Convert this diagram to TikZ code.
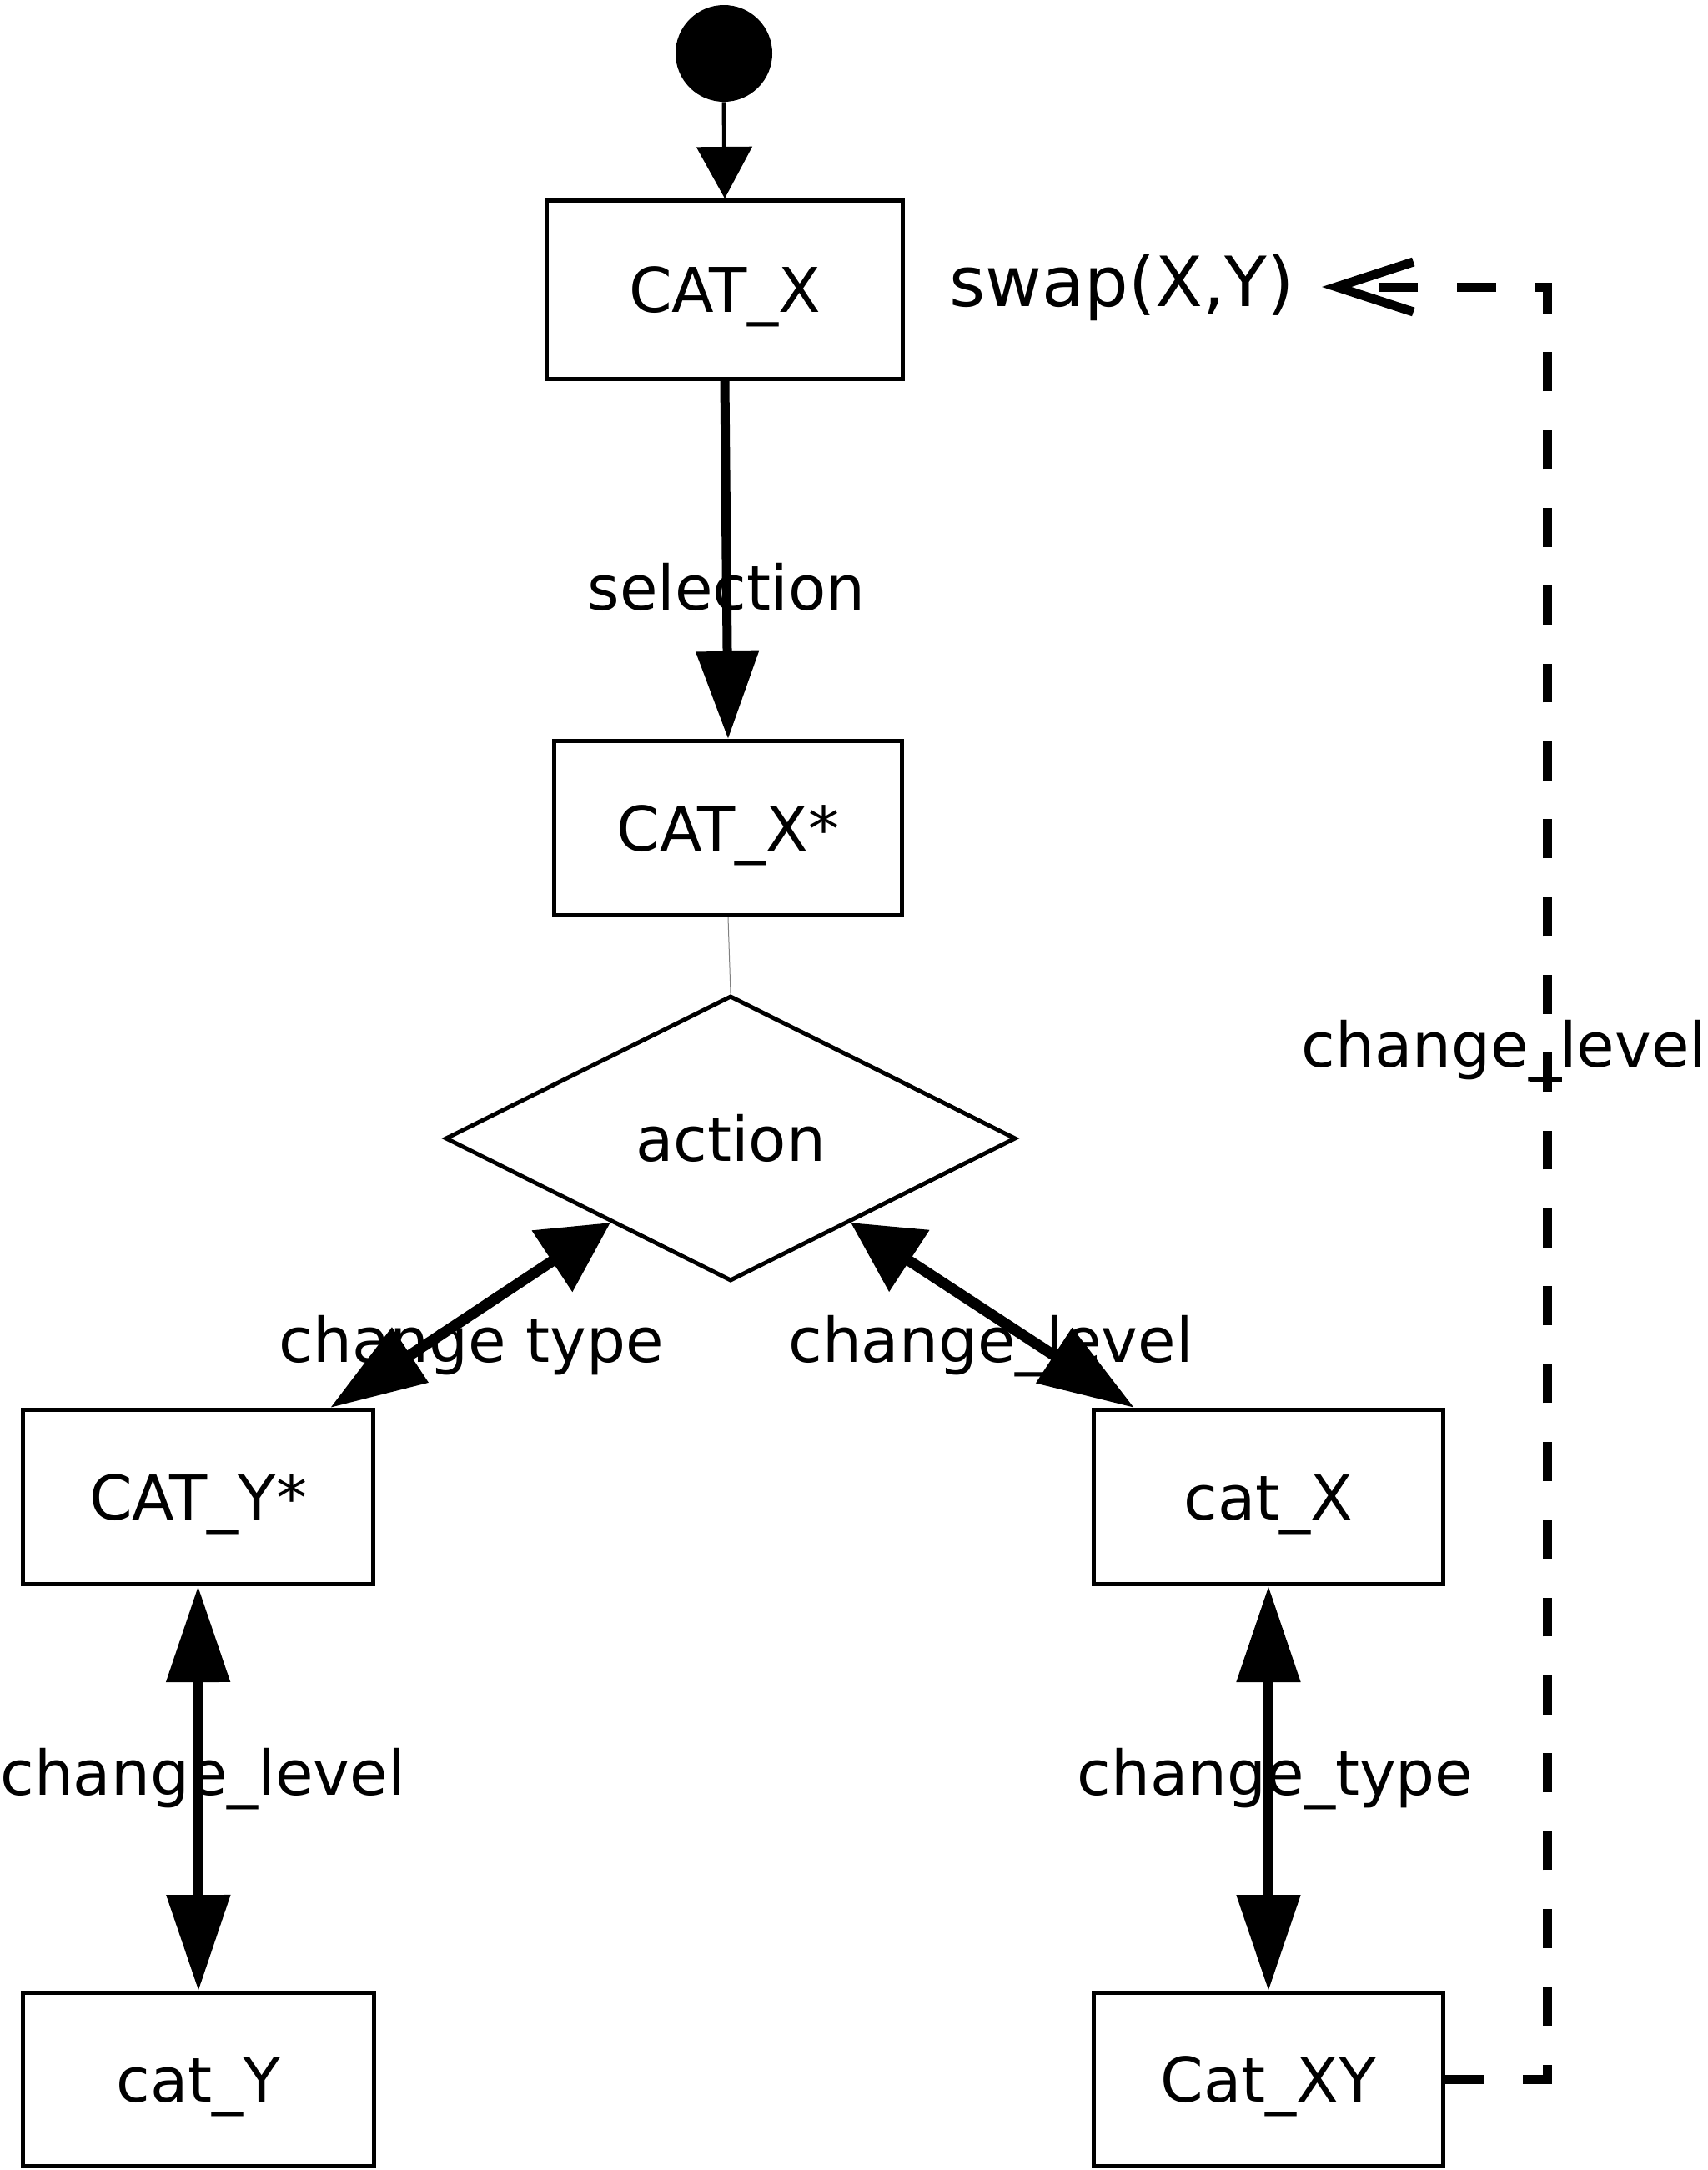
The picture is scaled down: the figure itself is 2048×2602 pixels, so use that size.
\documentclass[tikz,border=0pt]{standalone}
\usepackage{fontspec}
\setmainfont{DejaVu Sans}
\usetikzlibrary{arrows.meta,shapes.geometric,calc}
\begin{document}
\begin{tikzpicture}[x=0.5pt,y=-0.5pt,
  every node/.style={font=\fontsize{37pt}{44pt}\selectfont},
  statebox/.style={draw,line width=2.5pt,rectangle,inner sep=0pt,text height=27pt,text depth=0pt},
  lbl/.style={anchor=base,inner sep=0pt},
  initarrow/.style={line width=2.5pt,-{Triangle[length=31pt,width=33pt]}},
  selarrow/.style={line width=5.5pt,-{Triangle[length=52.5pt,width=36.5pt]}},
  diagarrow/.style={line width=6.5pt,{Triangle[length=42pt,width=42.5pt]}-{Triangle[length=57.5pt,width=38pt]}},
  vertarrow/.style={line width=6pt,{Triangle[length=57.5pt,width=37pt]}-{Triangle[length=57.5pt,width=37pt]}},
  dashconn/.style={line width=5.5pt,dash pattern=on 23.33pt off 23.33pt,-{Straight Barb[length=46pt,width=30pt]}}
]
\useasboundingbox (0,0) rectangle (2048,2602);

% nodes
\node[circle,fill=black,inner sep=0pt,minimum size=58pt] (init) at (868,64) {};
\node[statebox,minimum width=213.5pt,minimum height=107pt] (CATX) at (869,347.5) {CAT\_X};
\node[statebox,minimum width=208.5pt,minimum height=104.5pt] (CATXs) at (873,993) {CAT\_X*};
\node[diamond,draw,line width=2.5pt,inner sep=0pt,aspect=2,minimum width=342pt,minimum height=171pt] (action) at (876,1365) {action};
\node[statebox,minimum width=210pt,minimum height=104.5pt] (CATYs) at (237.5,1795) {CAT\_Y*};
\node[statebox,minimum width=209.5pt,minimum height=104.5pt] (catX) at (1521,1795) {cat\_X};
\node[statebox,minimum width=210.5pt,minimum height=104pt] (catY) at (238,2493.5) {cat\_Y};
\node[statebox,minimum width=209.5pt,minimum height=104pt] (CatXY) at (1521,2493.5) {Cat\_XY};

\node[lbl,font=\fontsize{41.5pt}{48pt}\selectfont] (swap) at (1345,367) {swap(X,Y)};
\coordinate (swaptip) at (1585,344);
\coordinate (corner) at (1855,344);

% labels
\node[lbl] (lsel) at (871,731) {selection};
\node[lbl] (lct) at (565,1633) {change type};
\node[lbl] (lcl) at (1188,1633) {change\_level};
\node[lbl] (lcl2) at (1803.5,1279) {change\_level};
\node[lbl] (lcl3) at (243,2152) {change\_level};
\node[lbl] (lctp) at (1529,2152) {change\_type};

% connectors
\draw[initarrow] (init.south) -- (CATX.north);
\draw[selarrow] (CATX.south) -- (CATXs.north);
\draw[gray,line width=0.5pt] (CATXs.south) -- (action.north);
\draw[diagarrow] ($(action.south)!0.418!(action.west)$) -- ($(CATYs.north)+(158.5,0)$);
\draw[diagarrow] ($(action.south)!0.418!(action.east)$) -- ($(catX.north)+(-161,0)$);
\draw[vertarrow] (CATYs.south) -- (catY.north);
\draw[vertarrow] (catX.south) -- (CatXY.north);
\draw[dashconn] (CatXY.east) -| (corner) -- (swaptip);
\draw[line width=2.5pt] (1835,1294) -- (1873,1294);
\end{tikzpicture}
\end{document}
